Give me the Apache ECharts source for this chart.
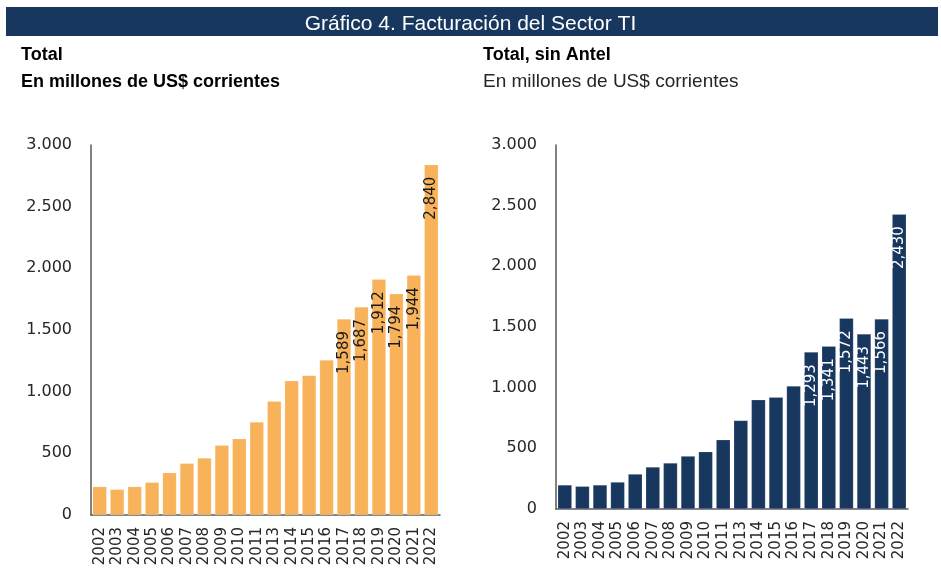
<!DOCTYPE html>
<html><head><meta charset="utf-8">
<script src="https://cdn.jsdelivr.net/npm/echarts@6/dist/echarts.min.js"></script>
<style>html,body{margin:0;padding:0;background:#fff}#c{width:941px;height:577px}</style>
</head><body><div id="c"></div>
<script>
const years = ['2002','2003','2004','2005','2006','2007','2008','2009','2010','2011','2013','2014','2015','2016','2017','2018','2019','2020','2021','2022'];
const total = [230,208,230,265,343,419,462,565,619,754,922,1089,1132,1257,1589,1687,1912,1794,1944,2840];
const sinAntel = [198,187,198,222,288,346,379,436,472,571,730,900,922,1013,1293,1341,1572,1443,1566,2430];
const labelFrom = 14; // index of first labelled bar (2017)

const chart = echarts.init(document.getElementById('c'), null, {renderer:'canvas'});
const sans = '"Liberation Sans", Arial, sans-serif';
const fmtTick = v => v.toLocaleString('de-DE');
const fmtLbl = v => v.toLocaleString('en-US');

function mkAxis(gi){
  return {
    x: {type:'category', gridIndex:gi, data:years,
      axisLine:{lineStyle:{color:'#595959', width:1.5}}, axisTick:{show:false},
      axisLabel:{rotate:90, color:'#262626', fontFamily:'DejaVu Sans', fontSize:15, margin:12, interval:0}},
    y: {type:'value', gridIndex:gi, min:0, max:3000, interval:500,
      axisLine:{show:true, lineStyle:{color:'#595959', width:1.5}}, axisTick:{show:false}, splitLine:{show:false},
      axisLabel:{color:'#262626', fontFamily:'DejaVu Sans', fontSize:16, margin:19, formatter:fmtTick}}
  };
}
const a0 = mkAxis(0), a1 = mkAxis(1);

function mkSeries(idx, data, color, lblColor){
  return {type:'bar', xAxisIndex:idx, yAxisIndex:idx, barCategoryGap:'20%',
    data: data.map((v,i)=>({value:v, label:{show:i>=labelFrom}})),
    itemStyle:{color:color, borderColor:'rgba(255,255,255,0.35)', borderWidth:0.5},
    label:{position:'insideTop', distance:12, rotate:90, align:'right', verticalAlign:'middle',
      color:lblColor, fontFamily:'DejaVu Sans', fontSize:15, formatter:p=>fmtLbl(p.value)}};
}

chart.setOption({
  animation:false,
  graphic:[
    {type:'rect', shape:{x:6, y:7, width:932, height:29}, style:{fill:'#17375E'}}
  ],
  title:[
    {text:'Gráfico 4. Facturación del Sector TI', left:'center', top:9,
      textStyle:{color:'#fff', fontFamily:sans, fontSize:21, fontWeight:'normal'}},
    {text:'Total', left:16, top:41, textStyle:{color:'#000', fontFamily:sans, fontSize:18, fontWeight:'bold'}},
    {text:'En millones de US$ corrientes', left:16, top:68, textStyle:{color:'#000', fontFamily:sans, fontSize:18, fontWeight:'bold'}},
    {text:'Total, sin Antel', left:478, top:41, textStyle:{color:'#000', fontFamily:sans, fontSize:18, fontWeight:'bold'}},
    {text:'En millones de US$ corrientes', left:478, top:67, textStyle:{color:'#262626', fontFamily:sans, fontSize:19, fontWeight:'normal'}}
  ],
  grid:[
    {left:91, right:501, top:145, bottom:62},
    {left:556, right:33, top:145, bottom:68}
  ],
  xAxis:[a0.x, a1.x],
  yAxis:[a0.y, a1.y],
  series:[
    mkSeries(0, total, '#F8B35A', '#1a1a1a'),
    mkSeries(1, sinAntel, '#17375E', '#ffffff')
  ]
});
</script></body></html>
